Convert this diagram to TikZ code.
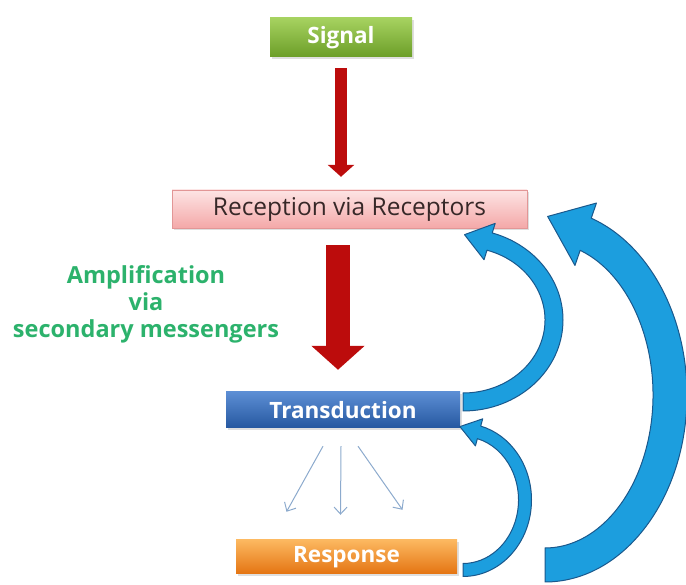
\documentclass[tikz,border=0pt]{standalone}
\usepackage{fontspec}
\setmainfont{Open Sans}
\usetikzlibrary{arrows.meta,calc,shadows}

\definecolor{arrowred}{RGB}{188,12,12}
\definecolor{thinblue}{RGB}{140,170,205}
\definecolor{bentblue}{RGB}{28,158,222}
\definecolor{bentedge}{RGB}{26,88,140}
\definecolor{ampgreen}{RGB}{44,178,108}

\tikzstyle{box}=[rectangle,inner sep=0pt,font=\fontsize{24.5}{28}\selectfont,drop shadow={opacity=0.25,shadow xshift=2pt,shadow yshift=-2pt}]
\tikzstyle{signalbox}=[top color={rgb,255:red,166;green,210;blue,96},bottom color={rgb,255:red,108;green,158;blue,40},text=white,font=\fontsize{22.5}{27}\selectfont\bfseries]
\tikzstyle{receptionbox}=[top color={rgb,255:red,253;green,228;blue,228},bottom color={rgb,255:red,244;green,168;blue,168},draw={rgb,255:red,226;green,150;blue,150},text={rgb,255:red,55;green,40;blue,40}]
\tikzstyle{transductionbox}=[top color={rgb,255:red,92;green,142;blue,212},bottom color={rgb,255:red,38;green,88;blue,160},text=white,font=\fontsize{22.5}{27}\selectfont\bfseries]
\tikzstyle{responsebox}=[top color={rgb,255:red,252;green,184;blue,96},bottom color={rgb,255:red,228;green,116;blue,18},text=white,font=\fontsize{22.5}{27}\selectfont\bfseries]
\tikzstyle{redarrow}=[draw=arrowred]
\tikzstyle{thinarrow}=[draw=thinblue,line width=1pt,-{Straight Barb[length=7pt,width=13pt]}]
\tikzstyle{bentarrow}=[fill=bentblue,draw=bentedge,line width=1pt,line join=round]

% centre, x radius, y radius, half band, half head, end angle, head length
\newcommand{\bentarrow}[7]{%
  \pgfmathsetmacro{\baox}{#2+#4}\pgfmathsetmacro{\baoy}{#3+#4}
  \pgfmathsetmacro{\baix}{#2-#4}\pgfmathsetmacro{\baiy}{#3-#4}
  \pgfmathsetmacro{\bahx}{#2+#5}\pgfmathsetmacro{\bahy}{#3+#5}
  \pgfmathsetmacro{\bakx}{#2-#5}\pgfmathsetmacro{\baky}{#3-#5}
  \pgfmathsetmacro{\batx}{-(#2)*sin(#6)}\pgfmathsetmacro{\baty}{(#3)*cos(#6)}
  \pgfmathsetmacro{\badx}{#7*\batx/veclen(\batx,\baty)}
  \pgfmathsetmacro{\bady}{#7*\baty/veclen(\batx,\baty)}
  \path[bentarrow] ($(#1)+(-90:\baox pt and \baoy pt)$)
    arc[start angle=-90,end angle=#6,x radius=\baox pt,y radius=\baoy pt]
    -- ($(#1)+(#6:\bahx pt and \bahy pt)$)
    -- ($(#1)+(#6:#2pt and #3pt)+(\badx,\bady)$)
    -- ($(#1)+(#6:\bakx pt and \baky pt)$)
    -- ($(#1)+(#6:\baix pt and \baiy pt)$)
    arc[start angle=#6,end angle=-90,x radius=\baix pt,y radius=\baiy pt]
    -- cycle;}

\begin{document}
\begin{tikzpicture}[x=1pt,y=1pt]
    \useasboundingbox (0,0) rectangle (686,585);
    % boites
    \foreach \pos/\name/\look/\bw/\bh/\txt in {{(341,547.5)/signal/signalbox/142/39/Signal}, {(349.5,376)/reception/receptionbox/355/38/Reception via Receptors}, {(343,175)/transduction/transductionbox/234/36/Transduction}, {(346.5,28)/response/responsebox/221/34/Response}}
        \node[box,\look,minimum width=\bw pt,minimum height=\bh pt] (\name) at \pos {\txt};
    \node[font=\fontsize{23.5}{27}\selectfont\bfseries,text=ampgreen,align=center] (amp) at (146,281) {Amplification\\via\\secondary messengers};
    % fleches rouges
    \draw[redarrow,line width=12pt,-{Triangle[width=26pt,length=12pt]},shorten <=11pt,shorten >=13pt] (signal.south) -- (signal.south |- reception.north);
    \draw[redarrow,line width=24pt,-{Triangle[width=52pt,length=24pt]},shorten <=17pt,shorten >=22pt] ([xshift=-5pt]transduction.north |- reception.south) -- ([xshift=-5pt]transduction.north);
    % reponses
    \foreach \sx/\ex/\ey in {-20/-60/28, -2/-6/25, 15/56/30}
        \draw[thinarrow] ([xshift=\sx pt,yshift=-18pt]transduction.south) -- ([xshift=\ex pt,yshift=\ey pt]response.north);
    % retroactions
    \coordinate (bigc) at (545,190);
    \coordinate (midc) at (463,265);
    \coordinate (smallc) at (463,85);
    \bentarrow{bigc}{125}{170}{17}{33}{71}{42}
    \bentarrow{midc}{91}{82}{9}{19}{73}{26}
    \bentarrow{smallc}{62}{70}{6.5}{14}{75}{20}
\end{tikzpicture}
\end{document}
